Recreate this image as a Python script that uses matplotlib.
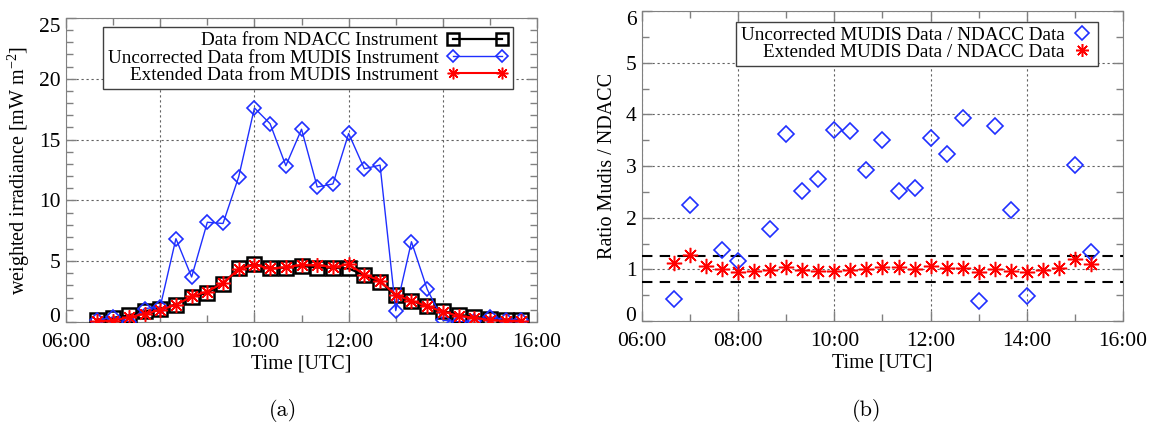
import numpy as np
import matplotlib.pyplot as plt
from matplotlib.ticker import MultipleLocator, FuncFormatter

plt.rcParams['font.family'] = ['Liberation Serif', 'DejaVu Serif']
plt.rcParams['mathtext.default'] = 'regular'

# panel (a): weighted irradiance, 20 min steps
times_a = ["06:40", "07:00", "07:20", "07:40", "08:00", "08:20", "08:40",
           "09:00", "09:20", "09:40", "10:00", "10:20", "10:40", "11:00",
           "11:20", "11:40", "12:00", "12:20", "12:40", "13:00", "13:20",
           "13:40", "14:00", "14:20", "14:40", "15:00", "15:20", "15:40"]
ndacc = [0.2, 0.34, 0.55, 0.88, 1.1, 1.43, 2.06, 2.4, 3.16, 4.4, 4.75, 4.4,
         4.45, 4.6, 4.48, 4.45, 4.4, 3.85, 3.3, 2.2, 1.73, 1.3, 0.91, 0.6,
         0.42, 0.28, 0.2, 0.14]
mudis_uncorrected = [0.14, 0.4, 0.0, 1.1, 1.25, 6.85, 3.7, 8.2, 8.1, 11.95,
                     17.6, 16.3, 12.85, 15.85, 11.1, 11.35, 15.5, 12.6, 12.9,
                     0.93, 6.6, 2.7, 0.15, 0.0, 0.1, 0.42, 0.2, 0.15]
mudis_extended = [0.1, 0.1, 0.4, 0.65, 1.0, 1.4, 2.1, 2.5, 3.2, 4.35, 4.7,
                  4.4, 4.5, 4.7, 4.7, 4.5, 4.75, 3.9, 3.4, 2.2, 1.75, 1.3,
                  0.85, 0.5, 0.35, 0.15, 0.1, 0.1]

# panel (b): ratios
times_unc = ["06:40", "07:00", "07:40", "08:00", "08:40", "09:00", "09:20",
             "09:40", "10:00", "10:20", "10:40", "11:00", "11:20", "11:40",
             "12:00", "12:20", "12:40", "13:00", "13:20", "13:40", "14:00",
             "15:00", "15:20"]
ratio_unc = [0.42, 2.25, 1.37, 1.17, 1.78, 3.61, 2.52, 2.74, 3.69, 3.67,
             2.93, 3.51, 2.51, 2.58, 3.55, 3.23, 3.92, 0.39, 3.77, 2.15,
             0.48, 3.01, 1.34]
times_ext = times_a[:-1]
ratio_ext = [1.13, 1.27, 1.06, 1.0, 0.95, 0.97, 0.99, 1.04, 0.99, 0.97, 0.97,
             0.98, 1.01, 1.04, 1.04, 1.01, 1.06, 1.03, 1.03, 0.95, 1.01, 0.97,
             0.95, 0.98, 1.03, 1.2, 1.11]
limits = [0.75, 1.25]


def to_hours(labels):
    return np.array([int(t[:2]) + int(t[3:]) / 60 for t in labels])


def style_axes(ax, ymax, ymajor, yminor):
    ax.set_xlim(6, 16)
    ax.set_ylim(0, ymax)
    ax.xaxis.set_major_locator(MultipleLocator(2))
    ax.xaxis.set_minor_locator(MultipleLocator(1))
    ax.yaxis.set_major_locator(MultipleLocator(ymajor))
    ax.yaxis.set_minor_locator(MultipleLocator(yminor))
    ax.xaxis.set_major_formatter(FuncFormatter(lambda v, p: '%02d:00' % v))
    ax.tick_params(which='both', direction='in', top=True, right=True,
                   color='#808080', labelsize=15.5)
    ax.tick_params(which='major', length=7, width=1)
    ax.tick_params(which='minor', length=5, width=1)
    ax.tick_params(axis='x', pad=8)
    ax.tick_params(axis='y', pad=4)
    for s in ax.spines.values():
        s.set_color('#808080')
    ax.set_axisbelow(True)
    ax.grid(True, which='major', color='#606060', linestyle=(0, (2, 2.5)),
            linewidth=0.8)
    ax.set_xlabel('Time [UTC]', fontsize=14.5, labelpad=2)


def pull_end_labels(ax, ymax):
    # bottom label sits on the axis, top label hangs from it
    for tick, loc in zip(ax.yaxis.get_major_ticks(), ax.yaxis.get_majorticklocs()):
        if abs(loc) < 1e-9:
            tick.label1.set_va('baseline')
        elif abs(loc - ymax) < 1e-9:
            tick.label1.set_va('top')


fig = plt.figure(figsize=(11.52, 4.25), dpi=100)
ax1 = fig.add_axes([0.0573, 0.2424, 0.4089, 0.7153])
ax2 = fig.add_axes([0.5573, 0.2447, 0.4175, 0.7294])

xa = to_hours(times_a)
ax1.plot(xa, ndacc, color='black', lw=1.6, marker='s', ms=10.5, mfc='none',
         mew=1.8, label='Data from NDACC Instrument', zorder=3)
ax1.plot(xa, mudis_uncorrected, color='#1f2fff', lw=1.0, marker='D', ms=7.5,
         mfc='none', mew=1.2, label='Uncorrected Data from MUDIS Instrument',
         zorder=4)
ax1.plot(xa, mudis_extended, color='red', lw=1.5, marker=(8, 2, 0), ms=10.5,
         mew=1.1, label='Extended Data from MUDIS Instrument', zorder=5)
style_axes(ax1, 25, 5, 1)
ax1.set_ylabel('weighted irradiance [mW m$^{-2}$]', fontsize=14.5, labelpad=5)
ax1.legend(loc='upper right', bbox_to_anchor=(0.949, 0.970),
           borderaxespad=0, markerfirst=False, numpoints=2,
           handlelength=3.2, handletextpad=0.45, labelspacing=0.0,
           borderpad=0.25, fontsize=13.8, fancybox=False, framealpha=1,
           edgecolor='#404040', markerscale=0.8)

ax2.plot(to_hours(times_unc), ratio_unc, ls='none', color='#1f2fff',
         marker='D', ms=8, mfc='none', mew=1.2,
         label='Uncorrected MUDIS Data / NDACC Data', zorder=4)
ax2.plot(to_hours(times_ext), ratio_ext, ls='none', color='red',
         marker=(8, 2, 0), ms=11, mew=1.1,
         label='Extended MUDIS Data / NDACC Data', zorder=5)
for lim in limits:
    ax2.axhline(lim, color='black', lw=1.5, ls=(0, (5, 3.5)), zorder=3)
style_axes(ax2, 6, 1, 0.5)
ax2.set_ylabel('Ratio Mudis / NDACC', fontsize=14.5, labelpad=6)
ax2.legend(loc='upper right', bbox_to_anchor=(0.948, 0.966), borderaxespad=0,
           markerfirst=False, numpoints=1, handlelength=1.2, handletextpad=0.3,
           labelspacing=0.0, borderpad=0.25, fontsize=13.8, fancybox=False,
           framealpha=1, edgecolor='#404040', markerscale=0.85)

fig.text(283 / 1152, 1 - 410 / 425, '(a)', family='cmr10', fontsize=16,
         ha='center', va='center')
fig.text(867 / 1152, 1 - 410 / 425, '(b)', family='cmr10', fontsize=16,
         ha='center', va='center')

fig.canvas.draw()
pull_end_labels(ax1, 25)
pull_end_labels(ax2, 6)

fig.savefig('out.png', dpi=100)
